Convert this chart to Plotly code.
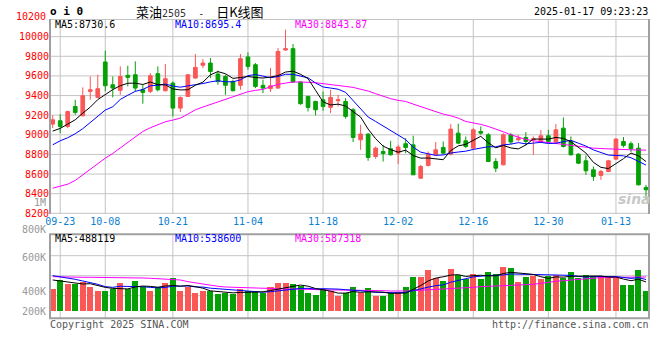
import pandas as pd
import plotly.graph_objects as go

# ---------------- data ----------------
date_labels = ["09-23", "10-08", "10-21", "11-04", "11-18", "12-02", "12-16", "12-30", "01-13"]
date_index = [1, 7, 16, 26, 36, 46, 56, 66, 75]
price_ticks = [8200, 8400, 8600, 8800, 9000, 9200, 9400, 9600, 9800, 10000]

opens = [9109, 9143, 9085, 9289, 9194, 9442, 9381, 9742, 9510, 9453,
         9606, 9612, 9459, 9442, 9623, 9449, 9527, 9272, 9391, 9578,
         9708, 9731, 9619, 9595, 9544, 9504, 9793, 9714, 9504, 9470,
         9476, 9864, 9878, 9538, 9391, 9340, 9357, 9279, 9347, 9340,
         9255, 8949, 9007, 8779, 8830, 8858, 8813, 8909, 8898, 8558,
         8688, 8796, 8871, 8803, 9017, 8939, 8864, 9034, 9000, 8728,
         8694, 9000, 8949, 8973, 8949, 8932, 8990, 8926, 9068, 8932,
         8803, 8735, 8643, 8586, 8626, 8752, 8932, 8909, 8864, 8463]
highs = [9198, 9211, 9245, 9357, 9483, 9595, 9612, 9857, 9595, 9697,
         9704, 9748, 9510, 9629, 9697, 9721, 9544, 9391, 9619, 9823,
         9772, 9782, 9653, 9612, 9561, 9823, 9840, 9731, 9561, 9680,
         9884, 10071, 9925, 9544, 9398, 9347, 9442, 9459, 9408, 9374,
         9272, 9102, 9017, 8881, 8898, 8939, 8898, 8966, 8990, 8694,
         8830, 8926, 8932, 9109, 9113, 8983, 9068, 9085, 9017, 8762,
         9017, 9017, 9000, 9028, 8983, 9048, 9051, 9109, 9177, 8983,
         8813, 8790, 8677, 8643, 8745, 8966, 8977, 8932, 8915, 8490]
lows = [9068, 9017, 9068, 9204, 9187, 9357, 9374, 9442, 9381, 9408,
        9493, 9442, 9317, 9425, 9442, 9442, 9187, 9232, 9388, 9572,
        9680, 9578, 9510, 9408, 9442, 9459, 9663, 9476, 9425, 9436,
        9470, 9857, 9527, 9306, 9238, 9198, 9245, 9221, 9289, 9164,
        8926, 8847, 8735, 8756, 8728, 8790, 8701, 8813, 8592, 8552,
        8677, 8790, 8803, 8790, 8905, 8864, 8858, 9000, 8722, 8620,
        8688, 8905, 8932, 8892, 8796, 8915, 8915, 8915, 8871, 8790,
        8701, 8592, 8531, 8541, 8620, 8745, 8871, 8824, 8484, 8337]
closes = [9153, 9085, 9238, 9228, 9398, 9459, 9470, 9500, 9476, 9595,
          9585, 9476, 9432, 9602, 9459, 9572, 9272, 9381, 9612, 9687,
          9731, 9646, 9544, 9504, 9449, 9776, 9697, 9493, 9476, 9500,
          9850, 9878, 9538, 9317, 9279, 9255, 9289, 9381, 9357, 9187,
          8973, 9007, 8769, 8864, 8810, 8796, 8875, 8871, 8592, 8677,
          8803, 8847, 8813, 9058, 8915, 8881, 9051, 9017, 8728, 8660,
          9000, 8926, 8966, 8932, 8960, 8990, 8932, 9051, 8881, 8796,
          8711, 8633, 8575, 8626, 8735, 8956, 8892, 8858, 8490, 8440]

# moving-average values at the left edge (need bars before the window)
ma5_head = [9038, 9065, 9109, 9153]
ma10_head = [8898, 8939, 8970, 9011, 9062, 9126, 9187, 9252, 9286]
ma30 = [8456, 8477, 8497, 8535, 8592, 8654, 8711, 8762, 8810, 8864,
        8926, 8980, 9034, 9072, 9102, 9133, 9150, 9170, 9211, 9255,
        9283, 9310, 9337, 9364, 9391, 9419, 9439, 9453, 9463, 9490,
        9514, 9527, 9538, 9538, 9538, 9531, 9521, 9514, 9507, 9493,
        9483, 9466, 9446, 9419, 9391, 9368, 9351, 9340, 9313, 9286,
        9262, 9238, 9211, 9194, 9170, 9136, 9123, 9106, 9085, 9062,
        9031, 9000, 8973, 8953, 8939, 8932, 8926, 8912, 8902, 8892,
        8878, 8868, 8864, 8860, 8855, 8852, 8849, 8847, 8845, 8844]

volumes = [380, 535, 460, 460, 495, 403, 345, 334, 374, 477,
           374, 518, 408, 345, 408, 477, 564, 345, 403, 311,
           345, 334, 293, 305, 288, 380, 334, 345, 305, 403,
           477, 477, 460, 420, 305, 276, 380, 334, 247, 305,
           414, 305, 391, 259, 259, 305, 322, 403, 581, 581,
           707, 564, 518, 725, 621, 552, 633, 552, 667, 633,
           748, 736, 495, 581, 592, 552, 592, 621, 564, 667,
           564, 621, 592, 575, 575, 564, 449, 449, 707, 334]
volumes = [v * 1000 for v in volumes]
vma5_head = [535000, 518000, 506000, 477000]
vma10_head = [610000, 592000, 575000, 546000, 518000, 495000, 460000, 420000, 408000]
vma30 = [592, 587, 581, 581, 581, 581, 581, 581, 581, 581,
         581, 575, 569, 564, 558, 558, 552, 535, 506, 483,
         460, 443, 426, 414, 408, 403, 397, 391, 385, 385,
         380, 380, 380, 374, 374, 374, 368, 362, 362, 362,
         362, 357, 357, 357, 351, 345, 339, 345, 351, 357,
         362, 368, 374, 380, 391, 397, 408, 420, 426, 431,
         437, 443, 443, 449, 460, 477, 500, 512, 523, 535,
         552, 564, 569, 576, 578, 580, 582, 584, 586, 587]
vma30 = [v * 1000 for v in vma30]

# ---------------- derived series ----------------
idx = list(range(len(closes)))
cs = pd.Series(closes, dtype=float)
ma5 = cs.rolling(5).mean().tolist()
ma10 = cs.rolling(10).mean().tolist()
ma5[:4] = ma5_head
ma10[:9] = ma10_head
vs = pd.Series(volumes, dtype=float)
vma5 = vs.rolling(5).mean().tolist()
vma10 = vs.rolling(10).mean().tolist()
vma5[:4] = vma5_head
vma10[:9] = vma10_head

RED = "#fa5757"
GREEN = "#05a005"
GRID = "#c4c4c4"
AXIS = "#a0a0a0"
MONO = "DejaVu Sans Mono"
W, H = 660, 360

vol_colors = [RED if c >= o else GREEN for o, c in zip(opens, closes)]

fig = go.Figure()
fig.add_trace(go.Candlestick(
    x=idx, open=opens, high=highs, low=lows, close=closes,
    increasing=dict(line=dict(color=RED, width=1), fillcolor=RED),
    decreasing=dict(line=dict(color=GREEN, width=1), fillcolor=GREEN),
    whiskerwidth=0, hoverinfo="skip", xaxis="x", yaxis="y"))
for ys, col in [(ma30, "#ff00ff"), (ma10, "#0000ff"), (ma5, "#000000")]:
    fig.add_trace(go.Scatter(x=idx, y=ys, mode="lines", line=dict(color=col, width=1),
                             hoverinfo="skip", xaxis="x", yaxis="y"))
fig.add_trace(go.Bar(x=idx, y=volumes, marker=dict(color=vol_colors, line=dict(width=0)),
                     width=0.8, hoverinfo="skip", xaxis="x2", yaxis="y2"))
for ys, col in [(vma30, "#ff00ff"), (vma10, "#0000ff"), (vma5, "#000000")]:
    fig.add_trace(go.Scatter(x=idx, y=ys, mode="lines", line=dict(color=col, width=1),
                             hoverinfo="skip", xaxis="x2", yaxis="y2"))

def px_x(p):
    return p / W

def px_y(p):
    return 1 - p / H

XL, XR = 50, 649
P_TOP, P_BOT = 19, 214
V_TOP, V_BOT = 234.3, 318.3
xrange = [-0.36, 79.4]
vol_grid = [264000, 609000, 954000]
ax = dict(showgrid=False, zeroline=False, showline=False, automargin=False, ticks="")

fig.update_layout(
    width=W, height=H, margin=dict(l=0, r=0, t=0, b=0, autoexpand=False), autosize=False,
    paper_bgcolor="white", plot_bgcolor="white", showlegend=False, bargap=0,
    xaxis=dict(domain=[px_x(XL), px_x(XR)], range=xrange, anchor="y",
               tickvals=date_index, ticktext=date_labels,
               tickfont=dict(family=MONO, size=10, color="#0a80d0"),
               rangeslider=dict(visible=False), **ax),
    yaxis=dict(domain=[px_y(P_BOT), px_y(P_TOP)], range=[8193, 10180], anchor="x",
               tickvals=price_ticks, ticktext=[str(v) for v in price_ticks],
               tickfont=dict(family=MONO, size=10, color="#ff0000"), **ax),
    xaxis2=dict(domain=[px_x(XL), px_x(XR)], range=xrange, anchor="y2", matches="x",
                showticklabels=False, **ax),
    yaxis2=dict(domain=[px_y(V_BOT), px_y(V_TOP)], range=[-126000, 1323000], anchor="x2",
                showticklabels=False, **ax),
)

grid_line = dict(color=GRID, width=1)
shapes = []
# horizontal grid lines, price panel
for v in price_ticks:
    shapes.append(dict(type="line", xref="paper", yref="y", x0=px_x(XL), x1=px_x(XR),
                       y0=v, y1=v, line=grid_line, layer="below"))
# top edge of price panel
shapes.append(dict(type="line", xref="paper", yref="paper", x0=px_x(XL), x1=px_x(XR),
                   y0=px_y(P_TOP + 0.5), y1=px_y(P_TOP + 0.5), line=grid_line, layer="below"))
# horizontal grid lines, volume panel
for v in vol_grid:
    shapes.append(dict(type="line", xref="paper", yref="y2", x0=px_x(XL), x1=px_x(XR),
                       y0=v, y1=v, line=grid_line, layer="below"))
# vertical grid lines at the date ticks, both panels
for d in date_index:
    shapes.append(dict(type="line", xref="x", yref="paper", x0=d, x1=d,
                       y0=px_y(P_BOT), y1=px_y(P_TOP), line=grid_line, layer="below"))
    shapes.append(dict(type="line", xref="x2", yref="paper", x0=d, x1=d,
                       y0=px_y(V_BOT), y1=px_y(V_TOP), line=grid_line, layer="below"))
# panel frames
shapes += [
    dict(type="line", xref="paper", yref="paper", x0=px_x(XL), x1=px_x(XL),
         y0=px_y(P_BOT), y1=px_y(P_TOP), line=dict(color=AXIS, width=2)),
    dict(type="line", xref="paper", yref="paper", x0=px_x(XR), x1=px_x(XR),
         y0=px_y(P_BOT), y1=px_y(P_TOP), line=dict(color=AXIS, width=2)),
    dict(type="rect", xref="paper", yref="paper", x0=px_x(XL), x1=px_x(XR),
         y0=px_y(V_BOT), y1=px_y(V_TOP), line=dict(color=AXIS, width=2)),
]
fig.update_layout(shapes=shapes)

def ann(text, x, y, anchor="left", color="#000", size=10, family=MONO, **kw):
    fig.add_annotation(text=text, xref="paper", yref="paper", x=px_x(x), y=px_y(y),
                       xanchor=anchor, yanchor="middle", showarrow=False,
                       font=dict(family=family, size=size, color=color), borderpad=0, **kw)

NB = "\u00a0"
ann("<b>o i 0</b>", 49, 12, size=11)
ann("菜油<span style='font-family:DejaVu Sans Mono;font-size:10px;color:#333'>2505"
    + NB * 2 + "-" + NB * 2 + "</span>日K线图",
    200, 11.5, anchor="center", size=13, family="Noto Sans CJK SC")
ann("2025-01-17 09:23:23", 649, 12, anchor="right")
ann("MA5:8730.6", 54, 24.5, color="#000000")
ann("MA10:8695.4", 174, 24.5, color="#0000ff")
ann("MA30:8843.87", 294, 24.5, color="#ff00ff")
ann("10200", 47, 16.5, anchor="right", color="#ff0000")
ann("1M", 47, 202, anchor="right", color="#999999")
ann("800K", 47, 230, anchor="right", color="#999999")
ann("600K", 47, 257, anchor="right", color="#999999")
ann("400K", 47, 291, anchor="right", color="#999999")
ann("200K", 47, 311, anchor="right", color="#999999")
ann("MA5:488119", 54, 238.5, color="#000000")
ann("MA10:538600", 174, 238.5, color="#0000ff")
ann("MA30:587318", 294, 238.5, color="#ff00ff")
ann("Copyright 2025 SINA.COM", 49, 324.5, color="#555555")
ann("http://finance.sina.com.cn", 650, 324.5, anchor="right", color="#555555")
ann("<b><i>sina</i></b>", 634, 199, anchor="center", color="#c8c8c8", size=14, family="DejaVu Sans")

fig.write_html("out.html", config={"displayModeBar": False},
               post_script="document.body.style.margin='0';")
